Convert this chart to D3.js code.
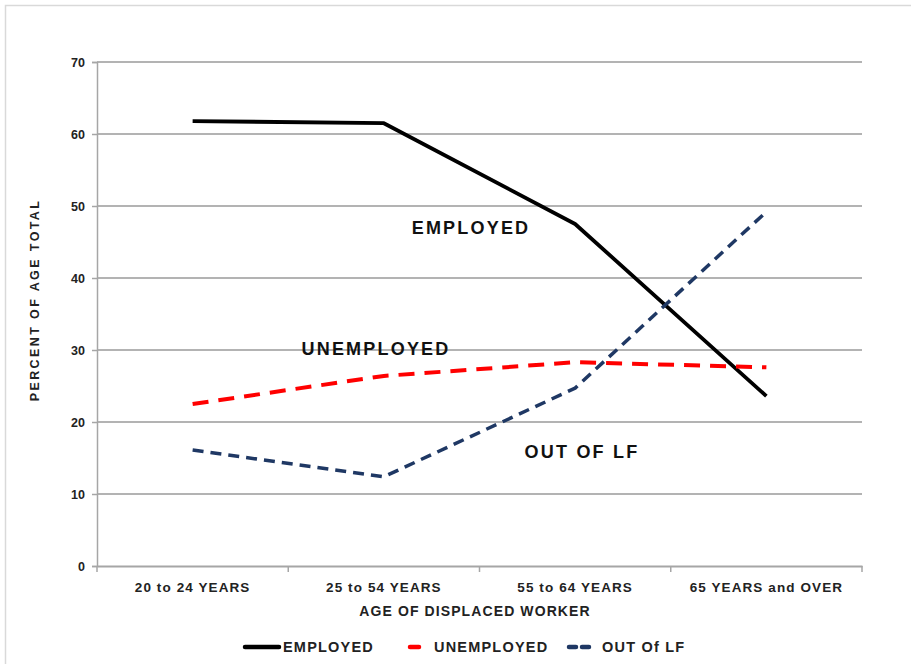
<!DOCTYPE html>
<html><head><meta charset="utf-8">
<script src="https://cdn.jsdelivr.net/npm/d3@7"></script>
<style>body{margin:0;background:#fff}svg{display:block;font-family:"Liberation Sans",Arial,sans-serif}</style>
</head><body><svg id="c" width="911" height="664"></svg>
<script>
const categories = ["20 to 24 YEARS","25 to 54 YEARS","55 to 64 YEARS","65 YEARS and OVER"];
const employed   = [61.8, 61.5, 47.5, 23.6];
const unemployed = [22.5, 26.4, 28.3, 27.6];
const outOfLF    = [16.1, 12.4, 24.7, 49.2];
const yTicks = [0,10,20,30,40,50,60,70];
const seriesNames = ["EMPLOYED","UNEMPLOYED","OUT Of LF"];

const svg = d3.select("#c");
svg.append("rect").attr("x",5.5).attr("y",5.5).attr("width",920).attr("height",680)
  .attr("fill","none").attr("stroke","#d9d9d9").attr("stroke-width",1.5);

const L=97,R=862,T=62,B=566;
const x = d3.scaleBand().domain(categories).range([L,R]);
const y = d3.scaleLinear().domain([0,70]).range([B,T]);

// gridlines
svg.append("g").selectAll("line").data(yTicks.filter(d=>d>0)).join("line")
  .attr("x1",L).attr("x2",R).attr("y1",d=>y(d)).attr("y2",d=>y(d))
  .attr("stroke","#b3b3b3").attr("stroke-width",2);

// y axis
const ya = svg.append("g").attr("transform",`translate(${L},0)`)
  .call(d3.axisLeft(y).tickValues(yTicks).tickSize(5).tickPadding(7));
ya.select(".domain").attr("stroke","#a6a6a6").attr("stroke-width",1.5);
ya.selectAll(".tick line").attr("stroke","#a6a6a6").attr("stroke-width",1.5);
ya.selectAll("text").attr("font-size",12.5).attr("font-weight","bold").attr("fill","#222")
  .attr("font-family","'Liberation Sans',Arial,sans-serif");

// x axis
const xa = svg.append("g").attr("transform",`translate(0,${B})`)
  .call(d3.axisBottom(x).tickSize(0).tickPadding(16));
xa.select(".domain").attr("stroke","#a6a6a6").attr("stroke-width",2);
xa.selectAll("text").attr("font-size",13.5).attr("font-weight","bold").attr("fill","#222")
  .attr("letter-spacing",1.1).attr("font-family","'Liberation Sans',Arial,sans-serif");
const bounds = categories.map(c=>x(c)).concat([x.range()[1]]);
svg.append("g").selectAll("line").data(bounds).join("line")
  .attr("x1",d=>d).attr("x2",d=>d).attr("y1",B).attr("y2",B+6)
  .attr("stroke","#a6a6a6").attr("stroke-width",1.5);

// titles
svg.append("text").attr("x",475).attr("y",616).attr("text-anchor","middle")
  .attr("font-size",14).attr("font-weight","bold").attr("fill","#222").attr("letter-spacing",1.1)
  .text("AGE OF  DISPLACED WORKER");
svg.append("text").attr("transform","translate(39,300) rotate(-90)").attr("text-anchor","middle")
  .attr("font-size",12.5).attr("font-weight","bold").attr("fill","#222").attr("letter-spacing",2.4)
  .text("PERCENT OF AGE TOTAL");

const cx = c=>x(c)+x.bandwidth()/2;
const styles = [
  {data:employed, color:"#000000", dash:null, w:3.8},
  {data:unemployed, color:"#ff0000", dash:"16,10", w:4},
  {data:outOfLF, color:"#1f3864", dash:"11,7", w:3.5}
];
const line = d3.line().x((d,i)=>cx(categories[i])).y(d=>y(d));
styles.forEach(s=>{
  svg.append("path").attr("d",line(s.data)).attr("fill","none")
    .attr("stroke",s.color).attr("stroke-width",s.w)
    .attr("stroke-dasharray",s.dash).attr("stroke-linejoin","round").attr("stroke-linecap","butt");
});

// in-chart labels
const lbl = [["EMPLOYED",471,234],["UNEMPLOYED",376,355],["OUT OF LF",582,458]];
svg.append("g").selectAll("text").data(lbl).join("text")
  .attr("x",d=>d[1]).attr("y",d=>d[2]).attr("text-anchor","middle")
  .attr("font-size",18).attr("font-weight","bold").attr("fill","#111").attr("letter-spacing",2.2).text(d=>d[0]);

// legend
const leg = [
  {x1:245,x2:279,tx:283},
  {x1:410,x2:419,tx:434},
  {x1:569,x2:590,tx:602}
];
leg.forEach((l,i)=>{
  svg.append("line").attr("x1",l.x1).attr("x2",l.x2).attr("y1",647).attr("y2",647)
    .attr("stroke",styles[i].color).attr("stroke-width",4.5)
    .attr("stroke-dasharray",i===2?"7,6":null).attr("stroke-linecap","round");
  svg.append("text").attr("x",l.tx).attr("y",652).attr("font-size",14.5)
    .attr("fill","#222").attr("font-weight","bold").attr("letter-spacing",1.2).text(seriesNames[i]);
});
</script></body></html>
